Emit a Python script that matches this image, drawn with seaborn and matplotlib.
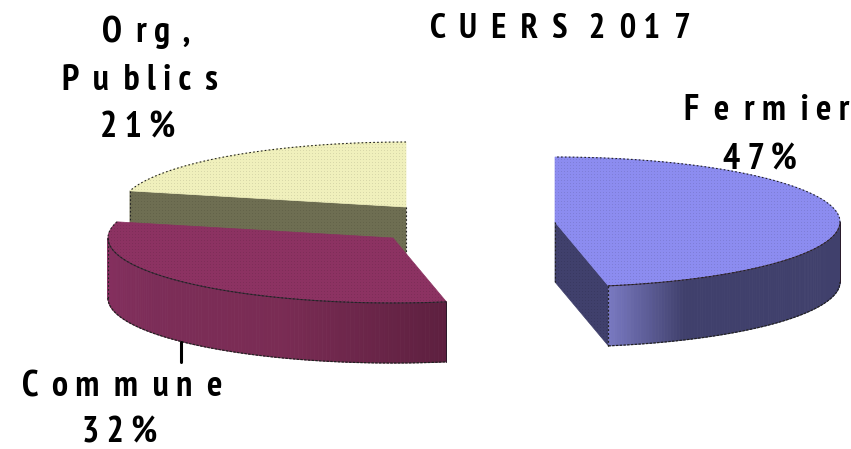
import numpy as np
import matplotlib
matplotlib.use("Agg")
import matplotlib.pyplot as plt
import seaborn as sns

# shares of the pie, Org. publics first, going anticlockwise from the top
names = ["Org, Publics", "Commune", "Fermier"]
shares = [21, 32, 47]

# layout in image pixels
centers = {"Org, Publics": (406, 207), "Commune": (393, 238), "Fermier": (555, 222)}
rx, ry, depth = 285, 65, 60

top_colors = {"Org, Publics": "#f0f0bc", "Commune": "#8c3262", "Fermier": "#8c8cf0"}
cut_colors = {"Org, Publics": "#6e6e52", "Fermier": "#40406c"}
wall_stops = {
    "Commune": ["#873060", "#7c2d58", "#7a2c54", "#5e2040"],
    "Fermier": ["#7878c0", "#40406c", "#40406c", "#40406c", "#40406c", "#40406c"],
}

title_text = "C  U  E  R  S   2  0 1  7"
label_lines = [
    ("O  r g  ,", 146, 32),
    ("P  u  b l i c  s", 140, 80),
    ("2 1 %", 138, 128),
    ("F  e  r m  i e r", 767, 111),
    ("4 7 %", 760, 160),
    ("C  o m  m  u n  e", 122, 387),
    ("3 2 %", 120, 433),
]

sns.set_theme(style="white")
plt.rcParams["font.family"] = ["PT Sans Narrow", "Liberation Sans", "DejaVu Sans"]


def rim(cx, cy, t):
    return cx - rx * np.sin(t), cy - ry * np.cos(t)


fig, ax = plt.subplots(figsize=(8.51, 4.49), dpi=100)
ax.set_position([0, 0, 1, 1])

# faint dot grid, the reference has this dither on its faces
dots = np.zeros((449, 851, 4))
dots[::3, ::3, 3] = 0.10


def add_dither(poly):
    im = ax.imshow(dots, extent=(0, 851, 449, 0), aspect="auto", interpolation="nearest", zorder=poly.get_zorder())
    im.set_clip_path(poly)


edges = np.cumsum([0] + shares) / sum(shares) * 2 * np.pi
spans = {n: (edges[i], edges[i + 1]) for i, n in enumerate(names)}

# back to front, each slice gets its own zorder band
for k, name in enumerate(["Org, Publics", "Fermier", "Commune"]):
    z = 2 + 4 * k
    cx, cy = centers[name]
    t0, t1 = spans[name]
    ts = np.linspace(t0, t1, 160)
    xs, ys = rim(cx, cy, ts)

    # flat cut face that looks at the viewer
    if name in cut_colors:
        t_cut = t1 if name == "Org, Publics" else t0
        ex, ey = rim(cx, cy, t_cut)
        face = ax.fill([cx, ex, ex, cx], [cy, ey, ey + depth, cy + depth],
                       color=cut_colors[name], lw=0.5, zorder=z)[0]
        add_dither(face)
        ax.plot([ex, ex], [ey, ey + depth], color="#222222", lw=0.8, ls=(0, (1.5, 2)), zorder=z + 2)
        ax.plot([cx, cx], [cy, cy + depth], color="#222222", lw=0.8, ls=(0, (1.5, 2)), zorder=z + 2)

    # outer wall, only the part on the front half of the ellipse
    if name in wall_stops:
        lo, hi = max(t0, np.pi / 2), min(t1, 3 * np.pi / 2)
        wt = np.linspace(lo, hi, 121)
        wx, wy = rim(cx, cy, wt)
        shades = sns.blend_palette(wall_stops[name], len(wt) - 1)
        for i, shade in enumerate(shades):
            ax.fill([wx[i], wx[i + 1], wx[i + 1], wx[i]],
                    [wy[i], wy[i + 1], wy[i + 1] + depth, wy[i] + depth],
                    color=shade, lw=0.6, zorder=z)
        ax.plot(wx, wy + depth, color="#222222", lw=0.9, ls=(0, (2, 1)), zorder=z + 1)
        ax.plot(wx, wy, color="#3a2a3a", lw=0.7, zorder=z + 2)
        ax.plot([wx[0], wx[0]], [wy[0], wy[0] + depth], color="#222222", lw=0.8, ls=(0, (1.5, 2)), zorder=z + 2)
        ax.plot([wx[-1], wx[-1]], [wy[-1], wy[-1] + depth], color="#2a1a2a", lw=0.7, zorder=z + 2)

    top = ax.fill(np.r_[cx, xs], np.r_[cy, ys], color=top_colors[name], lw=0.5, zorder=z + 1)[0]
    add_dither(top)
    ax.plot(xs, ys, color="#222222", lw=0.8, ls=(0, (1.5, 2)), zorder=z + 2)

# small leader line under the Commune slice
ax.plot([181, 181], [342, 362], color="black", lw=2.2, zorder=20)

ax.set_xlim(0, 851)
ax.set_ylim(449, 0)
ax.axis("off")

ax.text(560, 29, title_text, ha="center", va="center", fontsize=25,
        fontweight="bold", color="black", zorder=21)
for line, x, y in label_lines:
    ax.text(x, y, line, ha="center", va="center", fontsize=26,
            fontweight="bold", color="black", zorder=21)

fig.savefig("out.png", dpi=100)
